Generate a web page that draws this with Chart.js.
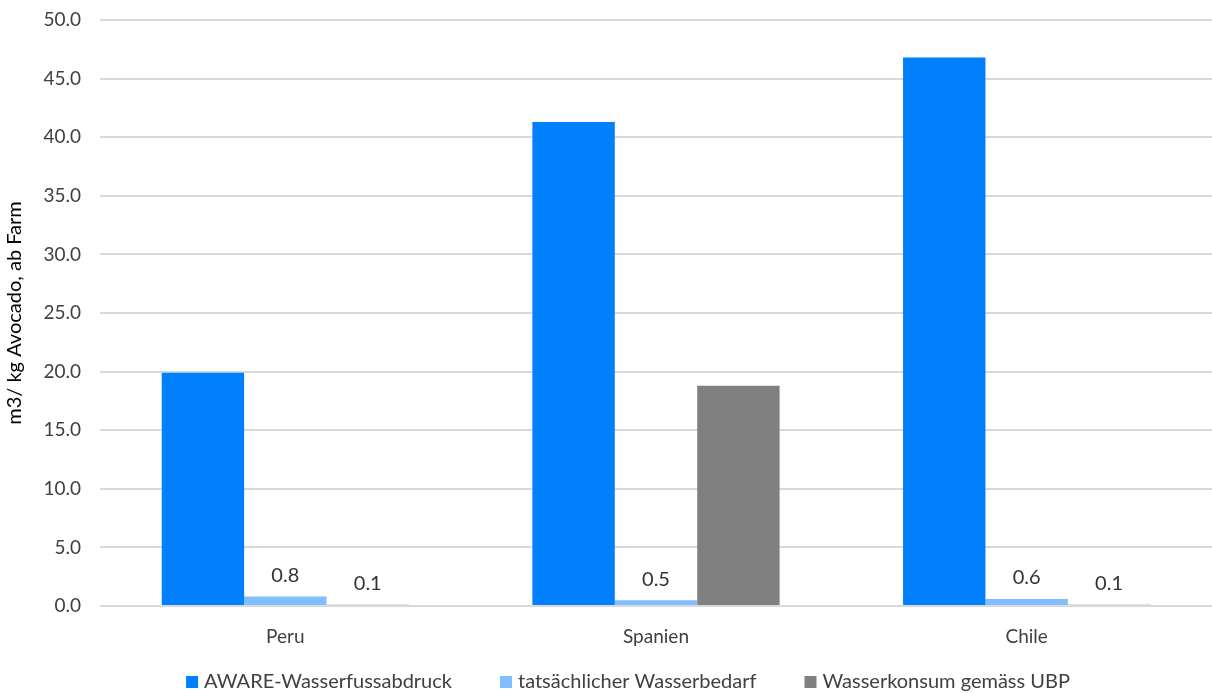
<!DOCTYPE html>
<html>
<head>
<meta charset="utf-8">
<script src="https://cdn.jsdelivr.net/npm/chart.js@4/dist/chart.umd.min.js"></script>
<style>
  html, body { margin: 0; padding: 0; background: #ffffff; }
  #wrap { width: 1212px; height: 693px; position: relative; }
</style>
</head>
<body>
<div id="wrap"><canvas id="c" width="1212" height="693"></canvas></div>
<script>
// Wasserbedarf je kg Avocado (ab Farm), nach Herkunftsland
const countries = ['Peru', 'Spanien', 'Chile'];
const aware = [19.9, 41.3, 46.8];
const actualDemand = [0.8, 0.5, 0.6];
const ubpConsumption = [0.1, 18.8, 0.1];
// which bars carry a value label
const labelDemand = [true, true, true];
const labelUbp = [true, false, true];
const yTicks = [0, 5, 10, 15, 20, 25, 30, 35, 40, 45, 50];

const FONT = 'Lato, "Open Sans", sans-serif';
const TEXT = '#404040';

// value labels above the small bars
const valueLabels = {
  id: 'valueLabels',
  afterDatasetsDraw(chart) {
    const ctx = chart.ctx;
    const flags = { 1: labelDemand, 2: labelUbp };
    ctx.save();
    ctx.font = '20px ' + FONT;
    ctx.fillStyle = '#333333';
    ctx.textAlign = 'center';
    ctx.textBaseline = 'middle';
    [1, 2].forEach(di => {
      const meta = chart.getDatasetMeta(di);
      const ds = chart.data.datasets[di];
      meta.data.forEach((bar, i) => {
        if (!flags[di][i]) return;
        ctx.fillText(ds.data[i].toFixed(1), bar.x, bar.y - 21);
      });
    });
    ctx.restore();
  }
};

// single-row legend below the axis labels
const bottomLegend = {
  id: 'bottomLegend',
  afterDraw(chart) {
    const ctx = chart.ctx;
    const box = 12, gapText = 6, gapItem = 48;
    const cy = chart.height - 11;
    ctx.save();
    ctx.font = '20px ' + FONT;
    ctx.textBaseline = 'middle';
    ctx.textAlign = 'left';
    const items = chart.data.datasets.map(ds => ({
      text: ds.label, color: ds.backgroundColor, w: ctx.measureText(ds.label).width
    }));
    const total = items.reduce((s, it) => s + box + gapText + it.w, 0) + gapItem * (items.length - 1);
    let x = chart.width / 2 + 22 - total / 2;
    items.forEach(it => {
      ctx.fillStyle = it.color;
      ctx.fillRect(x, cy - box / 2, box, box);
      ctx.fillStyle = TEXT;
      ctx.fillText(it.text, x + box + gapText, cy);
      x += box + gapText + it.w + gapItem;
    });
    ctx.restore();
  }
};

new Chart(document.getElementById('c'), {
  type: 'bar',
  data: {
    labels: countries,
    datasets: [
      { label: 'AWARE-Wasserfussabdruck', data: aware, backgroundColor: '#0080FF' },
      { label: 'tatsächlicher Wasserbedarf', data: actualDemand, backgroundColor: '#80BFFF' },
      { label: 'Wasserkonsum gemäss UBP', data: ubpConsumption, backgroundColor: '#808080' }
    ]
  },
  options: {
    responsive: false,
    animation: false,
    devicePixelRatio: 1,
    layout: { padding: { top: 20, right: 0, bottom: 27, left: 0 } },
    datasets: {
      bar: { barPercentage: 1.0, categoryPercentage: 0.667, borderWidth: 0 }
    },
    scales: {
      x: {
        grid: { display: false },
        border: { display: false },
        ticks: { color: TEXT, font: { family: FONT, size: 19 }, padding: 11 },
        afterFit(scale) { scale.height = 60; }
      },
      y: {
        min: 0,
        max: 50,
        afterBuildTicks(scale) { scale.ticks = yTicks.map(v => ({ value: v })); },
        ticks: {
          color: TEXT,
          font: { family: FONT, size: 19 },
          padding: 19,
          callback: v => v.toFixed(1)
        },
        grid: { color: '#d9d9d9', lineWidth: 2, drawTicks: false },
        border: { display: false },
        title: {
          display: true,
          text: 'm3/ kg Avocado, ab Farm',
          color: '#000000',
          font: { family: FONT, size: 20 },
          padding: { top: 3, bottom: 0 }
        },
        afterFit(scale) {
          scale.width = 100;
          scale.paddingTop = 0;
          scale.paddingBottom = 0;
        }
      }
    },
    plugins: {
      legend: { display: false },
      tooltip: { enabled: false }
    }
  },
  plugins: [valueLabels, bottomLegend]
});
</script>
</body>
</html>
